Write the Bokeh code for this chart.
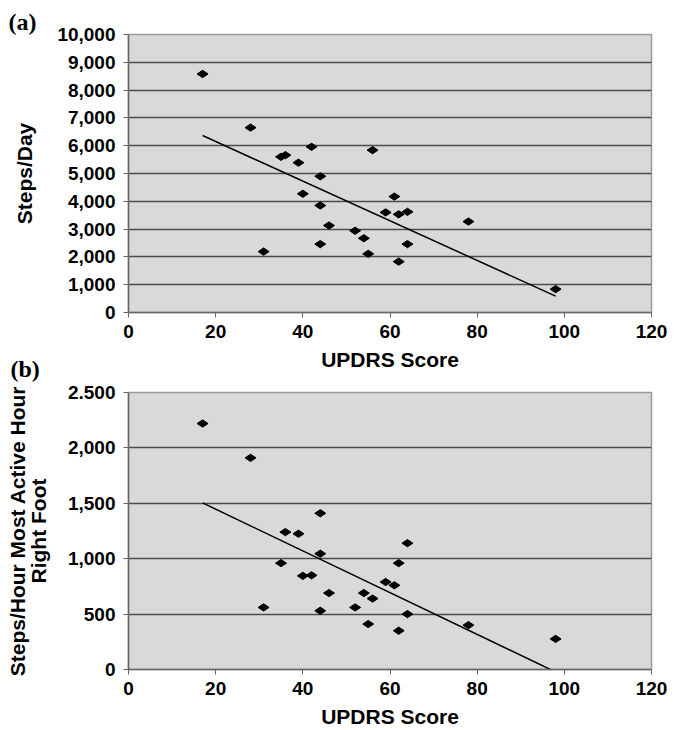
import numpy as np
from bokeh.plotting import figure
from bokeh.layouts import column
from bokeh.models import Range1d, FixedTicker, NumeralTickFormatter
from bokeh.embed import file_html
from bokeh.resources import INLINE

# ---------------- data ----------------
# Panel (a): UPDRS score vs steps/day
updrs_a = [17, 28, 31, 35, 36, 39, 40, 42, 44, 44, 44, 46, 52, 54, 55, 56, 59, 61, 62, 62, 64, 64, 78, 98]
steps_day = [8580, 6650, 2190, 5600, 5660, 5390, 4270, 5960, 4900, 3850, 2460, 3130, 2940, 2670, 2110,
             5840, 3600, 4170, 3530, 1830, 3620, 2460, 3270, 840]

# Panel (b): UPDRS score vs steps/hour in the most active hour (right foot)
updrs_b = [17, 28, 31, 35, 36, 39, 40, 42, 44, 44, 44, 46, 52, 54, 55, 56, 59, 61, 62, 62, 64, 64, 78, 98]
steps_hour = [2220, 1910, 560, 960, 1240, 1225, 845, 850, 1410, 1045, 530, 690, 560, 690, 410,
              640, 790, 760, 960, 350, 1140, 500, 400, 276]

x_ticks = [0, 20, 40, 60, 80, 100, 120]
ya_ticks = [0, 1000, 2000, 3000, 4000, 5000, 6000, 7000, 8000, 9000, 10000]
yb_ticks = [0, 500, 1000, 1500, 2000, 2500]
yb_tick_labels = ["0", "500", "1,000", "1,500", "2,000", "2.500"]

x_label = "UPDRS Score"
ya_label = "Steps/Day"
yb_label = "Steps/Hour Most Active Hour\nRight Foot"
panel_tags = ["(a)", "(b)"]

FONT = "Liberation Sans"
X0, X1 = 0, 120


def style(p, tag, tag_standoff, tag_offset, tag_valign):
    p.background_fill_color = "#d9d9d9"
    p.border_fill_alpha = 0
    p.outline_line_color = "#9a9a9a"
    p.outline_line_width = 1.5
    p.xgrid.visible = False
    p.ygrid.grid_line_color = "#4d4d4d"
    p.ygrid.grid_line_width = 1.6
    for ax in (p.xaxis[0], p.yaxis[0]):
        ax.major_label_text_font = FONT
        ax.major_label_text_font_style = "bold"
        ax.major_label_text_font_size = "19px"
        ax.major_label_text_color = "black"
        ax.axis_label_text_font = FONT
        ax.axis_label_text_font_style = "bold"
        ax.axis_label_text_font_size = "21px"
        ax.axis_label_text_color = "black"
        ax.minor_tick_line_color = None
        ax.major_tick_in = 0
        ax.major_tick_out = 5
        ax.major_tick_line_color = "#666666"
        ax.axis_line_color = "#666666"
        ax.axis_line_width = 1.5
        ax.major_label_standoff = 8
    p.xaxis[0].ticker = FixedTicker(ticks=x_ticks)
    p.xaxis[0].axis_label = x_label
    p.xaxis[0].axis_label_standoff = 7
    p.xaxis[0].major_label_standoff = 7
    # panel tag as the figure title, pushed to the left edge of the canvas
    p.title.text = tag
    p.title.align = "left"
    p.title.vertical_align = tag_valign
    p.title.offset = tag_offset
    p.title.standoff = tag_standoff
    p.title.text_font = "Liberation Serif"
    p.title.text_font_style = "bold"
    p.title.text_font_size = "24px"
    p.title.text_color = "black"


def add_fit(p, xs, ys):
    xs = np.asarray(xs, dtype=float)
    ys = np.asarray(ys, dtype=float)
    k, b = np.polyfit(xs, ys, 1)
    fx = np.array([xs.min(), xs.max()])
    p.line(fx, k * fx + b, line_color="black", line_width=1.5)


W = 671

# ---------------- panel (a) ----------------
la, ta, fa_w, fa_h, ha = 128, 34, 527, 278, 374
pa = figure(width=W, height=ha, x_range=Range1d(X0, X1), y_range=Range1d(0, 10000),
            output_backend="svg", toolbar_location=None, title="",
            min_border_left=la, min_border_right=W - la - fa_w, min_border_top=ta,
            min_border_bottom=ha - ta - fa_h)
style(pa, panel_tags[0], 0, 8 - la, "bottom")
pa.yaxis[0].ticker = FixedTicker(ticks=ya_ticks)
pa.yaxis[0].formatter = NumeralTickFormatter(format="0,0")
pa.yaxis[0].axis_label = ya_label
pa.yaxis[0].axis_label_standoff = 18
add_fit(pa, updrs_a, steps_day)
pa.scatter(updrs_a, steps_day, marker="diamond", size=11, angle=np.pi / 2,
           fill_color="black", line_color="black")

# ---------------- panel (b) ----------------
lb, tb, fb_w, fb_h, hb = 126, 47, 525, 280, 385
pb = figure(width=W, height=hb, x_range=Range1d(X0, X1), y_range=Range1d(0, 2500),
            output_backend="svg", toolbar_location=None, title="",
            min_border_left=lb, min_border_right=W - lb - fb_w, min_border_top=tb,
            min_border_bottom=hb - tb - fb_h)
style(pb, panel_tags[1], 18, 8 - lb, "top")
pb.margin = (-29, 0, 0, 0)
pb.yaxis[0].ticker = FixedTicker(ticks=yb_ticks)
pb.yaxis[0].major_label_overrides = {t: s for t, s in zip(yb_ticks, yb_tick_labels)}
pb.yaxis[0].axis_label = yb_label
pb.yaxis[0].axis_label_standoff = 15
pb.yaxis[0].axis_label_text_line_height = 0.92
add_fit(pb, updrs_b, steps_hour)
pb.scatter(updrs_b, steps_hour, marker="diamond", size=11, angle=np.pi / 2,
           fill_color="black", line_color="black")

layout = column(pa, pb)
open("out.html", "w").write(file_html(layout, INLINE))
